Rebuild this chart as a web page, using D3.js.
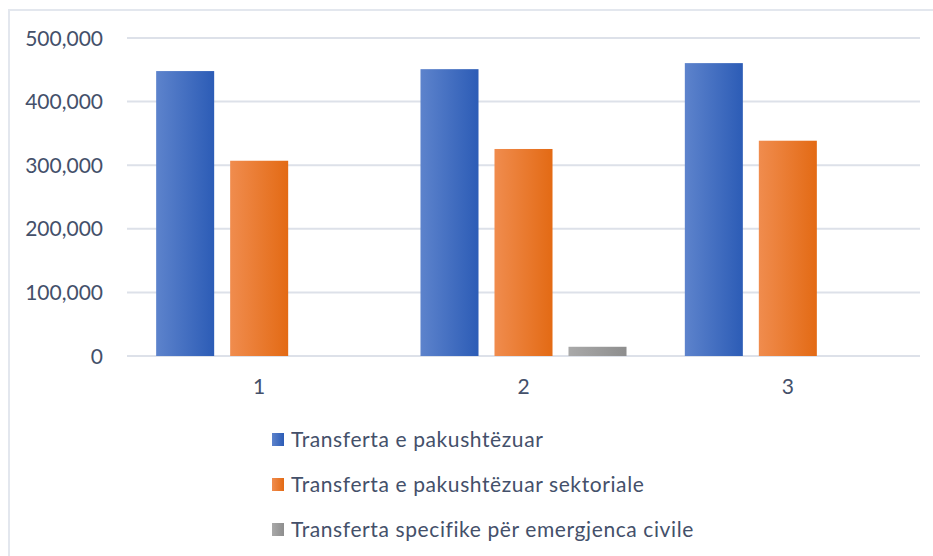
<!DOCTYPE html>
<html>
<head>
<meta charset="utf-8">
<script src="https://cdn.jsdelivr.net/npm/d3@7"></script>
<style>
  body { margin: 0; background: #fff; }
  svg { font-family: Lato, "Open Sans", sans-serif; }
</style>
</head>
<body>
<script>
// data
var categories = ["1", "2", "3"];
var seriesNames = ["Transferta e pakushtëzuar",
                   "Transferta e pakushtëzuar sektoriale",
                   "Transferta specifike për emergjenca civile"];
var unconditional = [448000, 451000, 460500];
var sectoral = [307000, 325500, 338500];
var emergency = [0, 14500, 0];
var yTicks = [0, 100000, 200000, 300000, 400000, 500000];

var width = 933, height = 556;
var plot = {left: 127, right: 920, top: 38, bottom: 356};
var textColor = "#44506a";

var svg = d3.select("body").append("svg")
    .attr("width", width)
    .attr("height", height);

// gradients for the bars (light on the left, dark on the right)
var defs = svg.append("defs");
var grads = [["#5d83cc", "#2c5cb6"], ["#f08c4e", "#e36a14"], ["#a9a9a9", "#8e8e8e"]];
grads.forEach(function(g, i) {
  var lg = defs.append("linearGradient").attr("id", "g" + i)
      .attr("x1", "0%").attr("x2", "100%").attr("y1", "0%").attr("y2", "0%");
  lg.append("stop").attr("offset", "0%").attr("stop-color", g[0]);
  lg.append("stop").attr("offset", "100%").attr("stop-color", g[1]);
});

// chart frame
svg.append("rect")
    .attr("x", 9).attr("y", 10)
    .attr("width", 940).attr("height", 560)
    .attr("fill", "none")
    .attr("stroke", "#e3e7ee")
    .attr("stroke-width", 2);

var x = d3.scaleBand()
    .domain(categories)
    .range([plot.left, plot.right]);

var xInner = d3.scaleBand()
    .domain([0, 1, 2])
    .range([0, x.bandwidth()])
    .paddingInner(0.216)
    .paddingOuter(0.394);

var y = d3.scaleLinear()
    .domain([0, 500000])
    .range([plot.bottom, plot.top]);

// gridlines
svg.append("g").selectAll("line")
    .data(yTicks)
    .enter().append("line")
    .attr("x1", plot.left).attr("x2", plot.right)
    .attr("y1", function(d) { return y(d); })
    .attr("y2", function(d) { return y(d); })
    .attr("stroke", "#dde1e9")
    .attr("stroke-width", 2);

// y labels
var fmt = d3.format(",");
svg.append("g").selectAll("text")
    .data(yTicks)
    .enter().append("text")
    .attr("x", 103)
    .attr("y", function(d) { return y(d); })
    .attr("dy", "0.36em")
    .attr("text-anchor", "end")
    .attr("fill", textColor)
    .style("font-size", "21px")
    .text(function(d) { return fmt(d); });

// bars
var series = [unconditional, sectoral, emergency];
var groups = svg.append("g").selectAll("g")
    .data(categories)
    .enter().append("g")
    .attr("transform", function(d) { return "translate(" + x(d) + ",0)"; });

groups.selectAll("rect")
    .data(function(d, i) { return series.map(function(s, k) { return {k: k, v: s[i]}; }); })
    .enter().append("rect")
    .filter(function(d) { return d.v > 0; })
    .attr("x", function(d) { return xInner(d.k); })
    .attr("width", xInner.bandwidth())
    .attr("y", function(d) { return y(d.v); })
    .attr("height", function(d) { return y(0) - y(d.v); })
    .attr("fill", function(d) { return "url(#g" + d.k + ")"; });

// x labels
svg.append("g").selectAll("text")
    .data(categories)
    .enter().append("text")
    .attr("x", function(d) { return x(d) + x.bandwidth() / 2; })
    .attr("y", 394)
    .attr("text-anchor", "middle")
    .attr("fill", textColor)
    .style("font-size", "21px")
    .text(function(d) { return d; });

// legend
var legend = svg.append("g").selectAll("g")
    .data(seriesNames)
    .enter().append("g")
    .attr("transform", function(d, i) { return "translate(272," + (433 + i * 45) + ")"; });

legend.append("rect")
    .attr("width", 12).attr("height", 13)
    .attr("fill", function(d, i) { return "url(#g" + i + ")"; });

legend.append("text")
    .attr("x", 19)
    .attr("y", 14)
    .attr("fill", textColor)
    .style("font-size", "21px")
    .style("letter-spacing", "0.6px")
    .text(function(d) { return d; });
</script>
</body>
</html>
